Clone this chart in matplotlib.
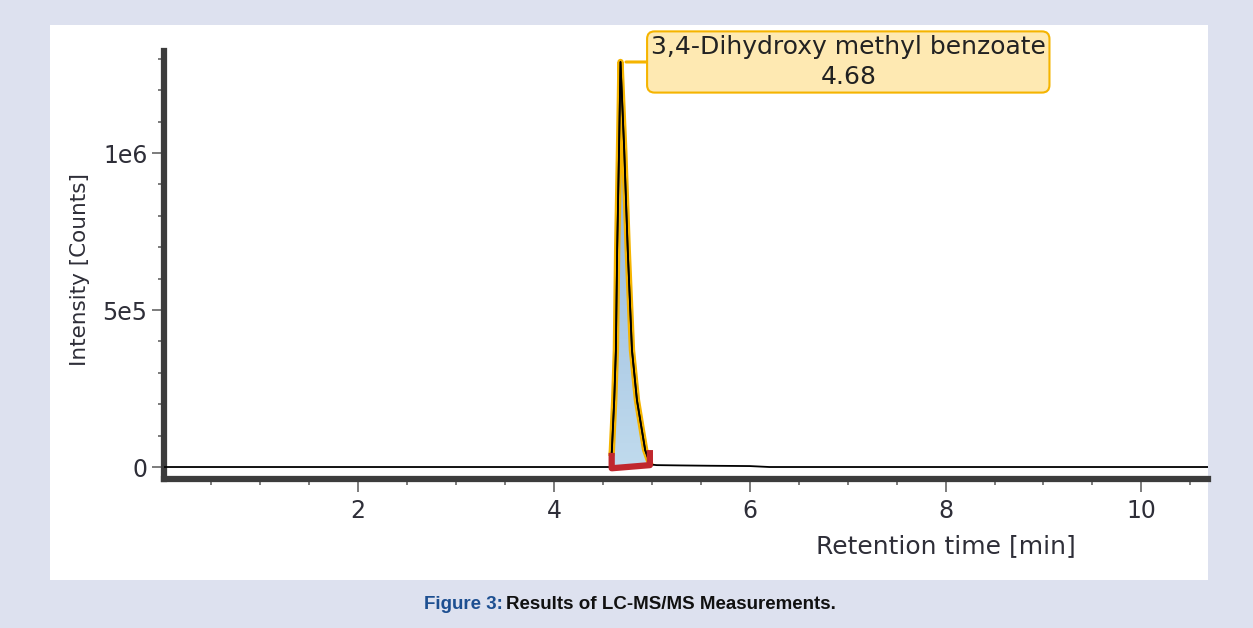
import matplotlib
matplotlib.use("Agg")
import matplotlib.pyplot as plt
import matplotlib.patheffects as pe
from matplotlib.patches import Rectangle
from matplotlib.ticker import MultipleLocator, FixedLocator, FixedFormatter
from matplotlib.colors import LinearSegmentedColormap
import numpy as np

# chromatogram trace (retention time in min, intensity in counts)
rt = [0.0, 4.50, 4.58, 4.592, 4.616, 4.633, 4.646, 4.665, 4.680,
      4.718, 4.754, 4.797, 4.848, 4.932, 4.985, 5.05, 5.30, 5.60, 6.00, 6.20, 10.68]
intensity = [0, 0, 0, 54e3, 213e3, 373e3, 691e3, 1010e3, 1290e3,
             1010e3, 691e3, 373e3, 213e3, 54e3, 8e3, 6e3, 5e3, 4e3, 3e3, 0, 0]

# integrated peak
peak_name = "3,4-Dihydroxy methyl benzoate"
peak_rt = 4.68
integ_rt = [4.59, 4.98]
integ_base = [-4e3, 6e3]
integ_cap = [45e3, 54e3]

y_ticks = [0, 5e5, 1e6]
y_ticklabels = ["0", "5e5", "1e6"]

BG = "#dde1ef"
ORANGE = "#f5b400"
RED = "#c0272d"
SPINE = "#3c3c3c"
TXT = "#2e2e38"

plt.rcParams['font.family'] = ['DejaVu Sans']

fig = plt.figure(figsize=(12.53, 6.28), dpi=100, facecolor=BG)
W, H = 1253, 628
fig.add_artist(Rectangle((50 / W, 1 - 580 / H), 1158 / W, 555 / H,
                         transform=fig.transFigure, facecolor="white",
                         edgecolor="none", zorder=0))

ax = fig.add_axes([164 / W, (H - 478.5) / H, (1208 - 164) / W, (478.5 - 51) / H])
ax.set_facecolor("none")

# peak area with blue gradient, clipped to area above the integration line
rt_arr = np.array(rt)
int_arr = np.array(intensity)
mask = (rt_arr >= integ_rt[0]) & (rt_arr <= integ_rt[1])
seg_rt = np.concatenate([[integ_rt[0]], rt_arr[mask], [integ_rt[1]]])
seg_int = np.interp(seg_rt, rt_arr, int_arr)
seg_base = np.interp(seg_rt, integ_rt, integ_base)
poly = ax.fill_between(seg_rt, seg_base, seg_int, facecolor="none", edgecolor="none")
cmap = LinearSegmentedColormap.from_list("peak", ["#c2dcee", "#86acd6"])
grad = np.linspace(0, 1, 256).reshape(-1, 1)
im = ax.imshow(grad, cmap=cmap, origin="lower", aspect="auto",
               extent=[integ_rt[0] - 0.05, integ_rt[1] + 0.05, -4e4, max(intensity)],
               zorder=2)
im.set_clip_path(poly.get_paths()[0], transform=ax.transData)

# trace: orange outline on the peak, black line everywhere
ax.plot(seg_rt, seg_int, color="black", lw=1.2, zorder=3,
        path_effects=[pe.Stroke(linewidth=4.6, foreground=ORANGE), pe.Normal()])
ax.plot(rt, intensity, color="black", lw=1.3, zorder=3)

# integration baseline with end markers
ax.plot([integ_rt[0], integ_rt[0], integ_rt[1], integ_rt[1]],
        [integ_cap[0], integ_base[0], integ_base[1], integ_cap[1]],
        color=RED, lw=4.5, solid_joinstyle="round", solid_capstyle="butt", zorder=4)

# peak label
ax.annotate(f"{peak_name}\n{peak_rt:.2f}", xy=(peak_rt, max(intensity)),
            xytext=(164, 0), textcoords="offset points",
            ha="center", va="center", multialignment="center",
            fontsize=18, color="#222222", linespacing=1.3,
            bbox=dict(boxstyle="round,pad=0.15,rounding_size=0.3",
                      facecolor="#fee9b2", edgecolor=ORANGE, lw=1.5),
            arrowprops=dict(arrowstyle="-", color=ORANGE, lw=2.2,
                            shrinkA=0, shrinkB=4),
            zorder=5)

ax.set_xlim(0.018, 10.68)
ax.set_ylim(-36600, 1.325e6)

for side in ("top", "right"):
    ax.spines[side].set_visible(False)
for side in ("left", "bottom"):
    ax.spines[side].set_color(SPINE)
    ax.spines[side].set_linewidth(4.5)

ax.xaxis.set_major_locator(MultipleLocator(2))
ax.xaxis.set_minor_locator(MultipleLocator(0.5))
ax.yaxis.set_major_locator(FixedLocator(y_ticks))
ax.yaxis.set_major_formatter(FixedFormatter(y_ticklabels))
ax.yaxis.set_minor_locator(MultipleLocator(1e5))

ax.tick_params(axis="both", which="major", length=9, width=1.2, color="#666666",
               labelsize=17, labelcolor=TXT)
ax.tick_params(axis="both", which="minor", length=4, width=1.2, color="#666666")
ax.tick_params(axis="x", which="major", pad=6)
ax.tick_params(axis="y", which="major", pad=3)

ax.set_xlabel("Retention time [min]", fontsize=18, color=TXT)
ax.set_ylabel("Intensity [Counts]", fontsize=15.5, color=TXT)
ax.xaxis.set_label_coords(0.749, -0.13)
ax.yaxis.set_label_coords(-0.071, 0.49)

# caption: blue figure number followed by black title, centred as one line
cap_y = 1 - 609 / H
cap_kw = dict(va="baseline", fontsize=13.5, fontweight="bold", family="Liberation Sans")
t1 = fig.text(0, cap_y, "Figure 3:", color="#1d4f91", **cap_kw)
t2 = fig.text(0, cap_y, "Results of LC-MS/MS Measurements.", color="#111111", **cap_kw)
renderer = fig.canvas.get_renderer()
w1 = t1.get_window_extent(renderer).width
w2 = t2.get_window_extent(renderer).width
gap = 4
x0 = 630 - (w1 + gap + w2) / 2
t1.set_x(x0 / W)
t2.set_x((x0 + w1 + gap) / W)

fig.savefig("out.png", dpi=100, facecolor=BG)
